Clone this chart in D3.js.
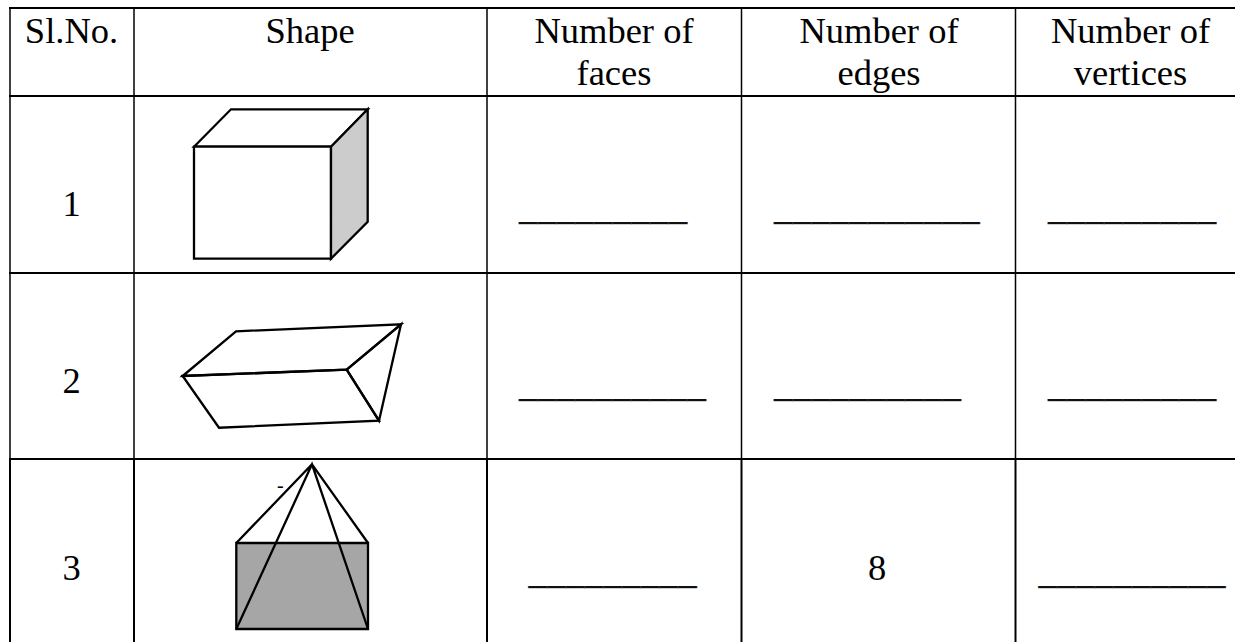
<!DOCTYPE html>
<html>
<head>
<meta charset="utf-8">
<script src="https://d3js.org/d3.v7.min.js"></script>
<style>
	html, body { margin: 0; background: #fff; overflow: hidden; }
	text { font-family: "Liberation Serif", serif; font-size: 36.5px; fill: #000; }
	text.blank { font-size: 37.4px; stroke: #444; stroke-width: 0.35px; }
</style>
</head>
<body>
<svg width="1235" height="642"></svg>
<script>
// table content
var columns = ["slNo", "shape", "faces", "edges", "vertices"];
var headerLines = [["Sl.No."], ["Shape"], ["Number of", "faces"], ["Number of", "edges"], ["Number of", "vertices"]];
var slNumbers = ["1", "2", "3"];
var facesValues = ["_________", "__________", "_________"];
var edgesValues = ["___________", "__________", "8"];
var verticesValues = ["_________", "_________", "__________"];

// shape outlines, in each drawing's own units
var boxFront = [[0, 37.4], [137, 37.4], [137, 149.4], [0, 149.4]];
var boxTop = [[0, 37.4], [37, 0], [173.7, 0], [137, 37.4]];
var boxSide = [[137, 37.4], [173.7, 0], [173.7, 112.4], [137, 149.4]];
var prismTop = [[0, 51.7], [53.3, 7], [218.3, 0], [164, 45.4]];
var prismFront = [[0, 51.7], [164, 45.4], [196.3, 96.4], [36.3, 103.4]];
var prismSide = [[164, 45.4], [218.3, 0], [196.3, 96.4]];
var pyramidBase = [[0, 78.7], [131.7, 78.7], [131.7, 164.7], [0, 164.7]];
var pyramidEdges = [[75.7, 0], [0, 78.7], [75.7, 0], [0, 164.7], [75.7, 0], [131.7, 164.7], [75.7, 0], [131.7, 78.7], [75.7, 0]];

// layout of the table
var columnEdges = [10, 134, 487, 741.5, 1015.5];
var rowEdges = [8, 96, 273, 459];
var pageW = 1235, pageH = 642;

var svg = d3.select("svg");

var colX = d3.scaleOrdinal().domain(columns).range(columnEdges);
var colCentre = d3.scaleOrdinal().domain(columns).range([71.5, 310, 614, 879, 1130.5]);
var rowY = d3.scaleOrdinal().domain(["head"].concat(slNumbers)).range(rowEdges);
var rowBase = d3.scaleOrdinal().domain(slNumbers).range([216, 392.5, 580]);
var blankBase = d3.scaleOrdinal().domain(slNumbers).range([219, 396, 583]);

// horizontal rules, top one to the page edge like the rest
svg.append("g").selectAll("line")
	.data(["head"].concat(slNumbers))
	.enter().append("line")
	.attr("x1", 9)
	.attr("x2", pageW)
	.attr("y1", function(d) { return rowY(d); })
	.attr("y2", function(d) { return rowY(d); })
	.attr("stroke", "#000")
	.attr("stroke-width", 2);

// vertical rules, the last row is heavier
var rowSpans = [[8, 459, 1.5], [459, pageH, 2]];
rowSpans.forEach(function(s) {
	svg.append("g").selectAll("line")
		.data(columns)
		.enter().append("line")
		.attr("x1", function(d) { return colX(d); })
		.attr("x2", function(d) { return colX(d); })
		.attr("y1", s[0])
		.attr("y2", s[1])
		.attr("stroke", "#000")
		.attr("stroke-width", s[2]);
});

// header
var head = svg.append("g").selectAll("g")
	.data(columns)
	.enter().append("g");
head.each(function(c, i) {
	d3.select(this).selectAll("text")
		.data(headerLines[i])
		.enter().append("text")
		.attr("x", colCentre(c))
		.attr("y", function(d, j) { return 43 + j * 42; })
		.attr("text-anchor", "middle")
		.text(function(d) { return d; });
});

// serial numbers
svg.append("g").selectAll("text")
	.data(slNumbers)
	.enter().append("text")
	.attr("x", colCentre("slNo"))
	.attr("y", function(d) { return rowBase(d); })
	.attr("text-anchor", "middle")
	.text(function(d) { return d; });

// answer cells: inset of each blank from the left edge of its column
var answerCols = [
	{ col: "faces", values: facesValues, inset: [32, 32, 41.5] },
	{ col: "edges", values: edgesValues, inset: [32.5, 32.5, 0] },
	{ col: "vertices", values: verticesValues, inset: [32.5, 32.5, 23] }
];
answerCols.forEach(function(a) {
	svg.append("g").selectAll("text")
		.data(a.values)
		.enter().append("text")
		.each(function(d, i) {
			var row = slNumbers[i], t = d3.select(this);
			if (d.charAt(0) === "_") {
				t.attr("class", "blank").attr("x", colX(a.col) + a.inset[i]).attr("y", blankBase(row));
			} else {
				t.attr("x", colCentre(a.col) - 2).attr("y", rowBase(row)).attr("text-anchor", "middle");
			}
			t.text(d);
		});
});

// drawings
function drawing(x0, y0, w, h) {
	var x = d3.scaleLinear().domain([0, w]).range([x0, x0 + w]);
	var y = d3.scaleLinear().domain([0, h]).range([y0, y0 + h]);
	var line = d3.line().x(function(d) { return x(d[0]); }).y(function(d) { return y(d[1]); });
	var g = svg.append("g")
		.attr("fill", "none")
		.attr("stroke", "#000")
		.attr("stroke-width", 2.3)
		.attr("stroke-linejoin", "miter");
	return function(points, fill, closed) {
		g.append("path")
			.attr("d", line(points) + (closed === false ? "" : "Z"))
			.attr("fill", fill || "none");
	};
}

var box = drawing(194, 109.3, 173.7, 149.4);
box(boxTop, "#fff");
box(boxFront, "#fff");
box(boxSide, "#cccccc");

var prism = drawing(182.7, 324.3, 218.3, 103.4);
prism(prismTop);
prism(prismFront);
prism(prismSide);

var pyramid = drawing(236.3, 464.3, 131.7, 164.7);
pyramid(pyramidBase, "#a6a6a6");
pyramid(pyramidEdges, null, false);

svg.append("text")
	.attr("x", 277)
	.attr("y", 492)
	.style("font-size", "20px")
	.text("-");
</script>
</body>
</html>
